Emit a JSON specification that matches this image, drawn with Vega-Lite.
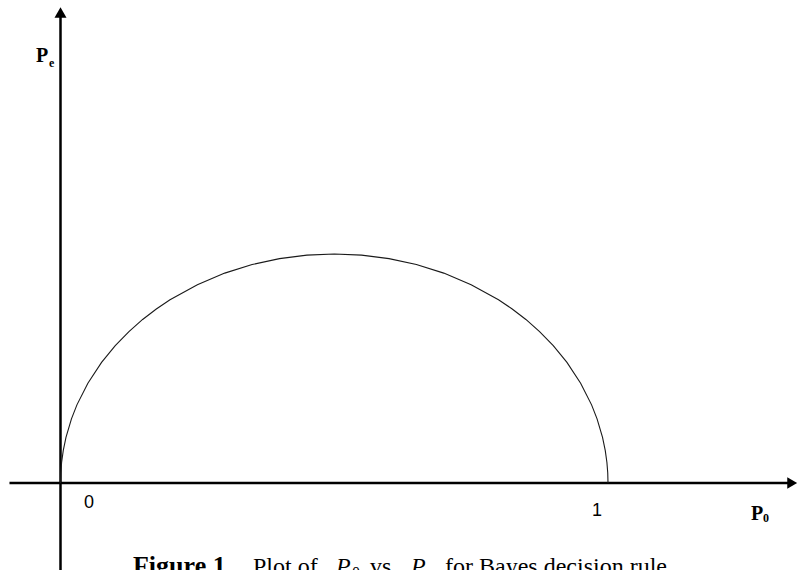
{
  "$schema": "https://vega.github.io/schema/vega-lite/v6.json",
  "width": 798,
  "height": 570,
  "padding": 0,
  "autosize": "none",
  "background": "white",
  "config": {"view": {"stroke": null}},
  "datasets": {
    "curve": [
      {"x": 0, "y": 0},
      {"x": 0.0005, "y": 0.02236},
      {"x": 0.002, "y": 0.04468},
      {"x": 0.005, "y": 0.07053},
      {"x": 0.01, "y": 0.0995},
      {"x": 0.02, "y": 0.14},
      {"x": 0.03, "y": 0.17059},
      {"x": 0.05, "y": 0.21794},
      {"x": 0.075, "y": 0.26339},
      {"x": 0.1, "y": 0.3},
      {"x": 0.125, "y": 0.33072},
      {"x": 0.15, "y": 0.35707},
      {"x": 0.175, "y": 0.37997},
      {"x": 0.2, "y": 0.4},
      {"x": 0.25, "y": 0.43301},
      {"x": 0.3, "y": 0.45826},
      {"x": 0.35, "y": 0.47697},
      {"x": 0.4, "y": 0.4899},
      {"x": 0.45, "y": 0.49749},
      {"x": 0.5, "y": 0.5},
      {"x": 0.55, "y": 0.49749},
      {"x": 0.6, "y": 0.4899},
      {"x": 0.65, "y": 0.47697},
      {"x": 0.7, "y": 0.45826},
      {"x": 0.75, "y": 0.43301},
      {"x": 0.8, "y": 0.4},
      {"x": 0.825, "y": 0.37997},
      {"x": 0.85, "y": 0.35707},
      {"x": 0.875, "y": 0.33072},
      {"x": 0.9, "y": 0.3},
      {"x": 0.925, "y": 0.26339},
      {"x": 0.95, "y": 0.21794},
      {"x": 0.97, "y": 0.17059},
      {"x": 0.98, "y": 0.14},
      {"x": 0.99, "y": 0.0995},
      {"x": 0.995, "y": 0.07053},
      {"x": 0.998, "y": 0.04468},
      {"x": 0.9995, "y": 0.02236},
      {"x": 1, "y": 0}
    ],
    "axes": [
      {"x": -0.0932, "x2": 1.333, "y": 0, "y2": 0},
      {"x": 0, "x2": 0, "y": -0.2, "y2": 1.028}
    ],
    "arrowUp": [{"x": 0, "y": 1.0273}],
    "arrowRight": [{"x": 1.3364, "y": 0}],
    "ticks": [
      {"x": 0.0521, "y": -0.0546, "text": "0"},
      {"x": 0.9799, "y": -0.0721, "text": "1"}
    ],
    "axisNames": [
      {"x": -0.0447, "y": 0.9192, "text": "P"},
      {"x": 1.2612, "y": -0.0808, "text": "P"}
    ],
    "axisSubs": [
      {"x": -0.021, "y": 0.9083, "text": "e"},
      {"x": 1.2831, "y": -0.0852, "text": "0"}
    ],
    "captionBold": [{"x": 0.1324, "y": -0.1987, "text": "Figure 1."}],
    "captionRoman": [
      {"x": 0.3516, "y": -0.1987, "text": "Plot of"},
      {"x": 0.5653, "y": -0.1987, "text": "vs."},
      {"x": 0.7023, "y": -0.1987, "text": "for Bayes decision rule."}
    ],
    "captionItalic": [
      {"x": 0.5032, "y": -0.1987, "text": "P"},
      {"x": 0.6402, "y": -0.1987, "text": "P"}
    ],
    "captionSubs": [
      {"x": 0.5324, "y": -0.2074, "text": "0"},
      {"x": 0.6731, "y": -0.2074, "text": "e"}
    ]
  },
  "encoding": {
    "x": {"field": "x", "type": "quantitative", "axis": null,
          "scale": {"domain": [-0.1105, 1.347], "nice": false, "zero": false}},
    "y": {"field": "y", "type": "quantitative", "axis": null,
          "scale": {"domain": [-0.18996, 1.05459], "nice": false, "zero": false}}
  },
  "layer": [
    {
      "data": {"name": "axes"},
      "mark": {"type": "rule", "color": "#000000", "strokeWidth": 2.5},
      "encoding": {
        "x2": {"field": "x2"},
        "y2": {"field": "y2"}
      }
    },
    {
      "data": {"name": "arrowUp"},
      "mark": {"type": "point", "shape": "triangle-up", "filled": true, "color": "#000000", "size": 144, "opacity": 1}
    },
    {
      "data": {"name": "arrowRight"},
      "mark": {"type": "point", "shape": "triangle-right", "filled": true, "color": "#000000", "size": 130, "opacity": 1}
    },
    {
      "data": {"name": "curve"},
      "mark": {"type": "line", "color": "#1a1a1a", "strokeWidth": 1.1}
    },
    {
      "data": {"name": "ticks"},
      "mark": {"type": "text", "font": "Liberation Sans", "fontSize": 18, "align": "center", "baseline": "alphabetic", "color": "#000000"},
      "encoding": {"text": {"field": "text"}}
    },
    {
      "data": {"name": "axisNames"},
      "mark": {"type": "text", "font": "Liberation Serif", "fontSize": 20, "fontWeight": "bold", "align": "left", "baseline": "alphabetic", "color": "#000000"},
      "encoding": {"text": {"field": "text"}}
    },
    {
      "data": {"name": "axisSubs"},
      "mark": {"type": "text", "font": "Liberation Serif", "fontSize": 12, "fontWeight": "bold", "align": "left", "baseline": "alphabetic", "color": "#000000"},
      "encoding": {"text": {"field": "text"}}
    },
    {
      "data": {"name": "captionBold"},
      "mark": {"type": "text", "font": "Liberation Serif", "fontSize": 26, "fontWeight": "bold", "align": "left", "baseline": "alphabetic", "color": "#000000"},
      "encoding": {"text": {"field": "text"}}
    },
    {
      "data": {"name": "captionRoman"},
      "mark": {"type": "text", "font": "Liberation Serif", "fontSize": 24, "align": "left", "baseline": "alphabetic", "color": "#000000"},
      "encoding": {"text": {"field": "text"}}
    },
    {
      "data": {"name": "captionItalic"},
      "mark": {"type": "text", "font": "Liberation Serif", "fontSize": 24, "fontStyle": "italic", "align": "left", "baseline": "alphabetic", "color": "#000000"},
      "encoding": {"text": {"field": "text"}}
    },
    {
      "data": {"name": "captionSubs"},
      "mark": {"type": "text", "font": "Liberation Serif", "fontSize": 16, "align": "left", "baseline": "alphabetic", "color": "#000000"},
      "encoding": {"text": {"field": "text"}}
    }
  ]
}
